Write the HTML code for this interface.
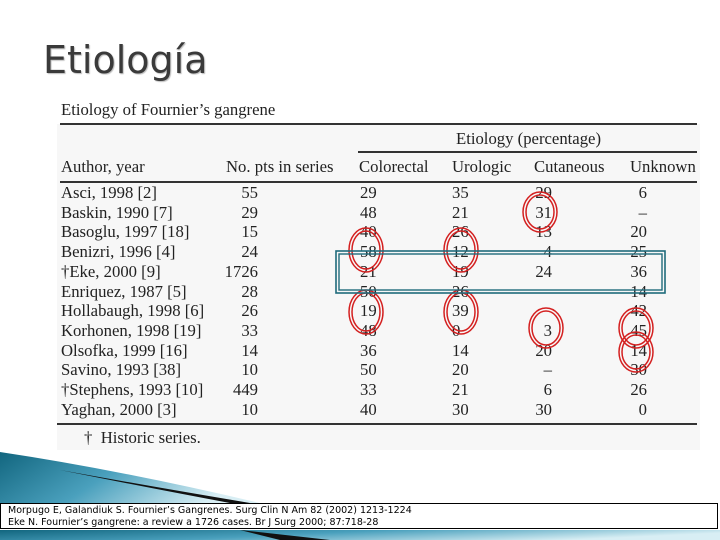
<!DOCTYPE html>
<html><head><meta charset="utf-8"><style>
body{margin:0;width:720px;height:540px;overflow:hidden;background:#fff;position:relative;font-family:"Liberation Serif",serif;}
.t{position:absolute;font-size:16.7px;color:#222;white-space:nowrap;line-height:18px;}
.r{text-align:right;}
.ln{position:absolute;height:1.5px;background:#333;}
</style></head><body>
<div style="position:absolute;left:43px;top:38px;font-family:'DejaVu Sans','Liberation Sans',sans-serif;font-size:38px;color:#3a3a3a;text-shadow:1px 1px 1px #bbb;">Etiología</div>
<div style="position:absolute;left:57px;top:124px;width:643px;height:326px;background:#f7f7f7;"></div>
<div class="t" style="left:61px;top:101px;">Etiology of Fournier’s gangrene</div>
<div class="ln" style="left:60px;top:123px;width:637px;"></div>
<div class="t" style="left:456px;top:130px;">Etiology (percentage)</div>
<div class="ln" style="left:358px;top:151px;width:339px;"></div>
<div class="t" style="left:61px;top:158px;">Author, year</div>
<div class="t" style="left:226px;top:158px;">No. pts in series</div>
<div class="t" style="left:359px;top:158px;">Colorectal</div>
<div class="t" style="left:452px;top:158px;">Urologic</div>
<div class="t" style="left:534px;top:158px;">Cutaneous</div>
<div class="t" style="left:630px;top:158px;">Unknown</div>
<div class="ln" style="left:60px;top:181px;width:637px;"></div>
<div id="rows"></div>
<div class="ln" style="left:57px;top:423px;width:640px;"></div>
<div class="t" style="left:84px;top:429px;">†&nbsp; Historic series.</div>

<svg width="720" height="540" style="position:absolute;left:0;top:0;">
<g fill="none" stroke="#d42020" stroke-width="1.5">
<ellipse cx="540" cy="212" rx="17" ry="20"/><ellipse cx="540" cy="212" rx="14" ry="17"/>
<ellipse cx="366" cy="250" rx="17" ry="22"/><ellipse cx="366" cy="250" rx="14" ry="19"/>
<ellipse cx="461" cy="250" rx="17" ry="22"/><ellipse cx="461" cy="250" rx="14" ry="19"/>
<ellipse cx="366" cy="312" rx="17" ry="22"/><ellipse cx="366" cy="312" rx="14" ry="19"/>
<ellipse cx="461" cy="312" rx="17" ry="22"/><ellipse cx="461" cy="312" rx="14" ry="19"/>
<ellipse cx="546" cy="328" rx="17" ry="20"/><ellipse cx="546" cy="328" rx="14" ry="17"/>
<ellipse cx="636" cy="328" rx="17" ry="20"/><ellipse cx="636" cy="328" rx="14" ry="17"/>
<ellipse cx="636" cy="352" rx="17" ry="20"/><ellipse cx="636" cy="352" rx="14" ry="17"/>
</g>
<rect x="336" y="251" width="329" height="42" fill="none" stroke="#1f6b7c" stroke-width="1.6"/>
<rect x="339" y="254" width="323" height="36" fill="none" stroke="#1f6b7c" stroke-width="1.4"/>
<defs><linearGradient id="g" x1="0" y1="0" x2="1" y2="0.3"><stop offset="0" stop-color="#12667f"/><stop offset="0.5" stop-color="#4aa0bd"/><stop offset="1" stop-color="#d8eef4"/></linearGradient></defs>
<path d="M0,452 Q120,470 260,503 L0,503 Z" fill="url(#g)"/>
<path d="M60,470 Q160,488 250,503 L230,503 Q150,488 60,470 Z" fill="#111"/>
<path d="M0,530 L720,530 L720,540 L0,540 Z" fill="url(#g)"/>
<path d="M240,530 L330,540 L280,540 Z" fill="#111"/>
</svg>
<div style="position:absolute;left:0;top:503px;width:718px;height:26px;border:1px solid #000;background:#fff;font-family:'DejaVu Sans','Liberation Sans',sans-serif;font-size:9.5px;line-height:12px;padding-left:7px;box-sizing:border-box;padding-top:1px;">
<div>Morpugo E, Galandiuk S. Fournier’s Gangrenes. Surg Clin N Am 82 (2002) 1213-1224</div>
<div>Eke N. Fournier’s gangrene: a review a 1726 cases. Br J Surg 2000; 87:718-28</div>
</div>
<script>
const authors=["Asci, 1998 [2]","Baskin, 1990 [7]","Basoglu, 1997 [18]","Benizri, 1996 [4]","†Eke, 2000 [9]","Enriquez, 1987 [5]","Hollabaugh, 1998 [6]","Korhonen, 1998 [19]","Olsofka, 1999 [16]","Savino, 1993 [38]","†Stephens, 1993 [10]","Yaghan, 2000 [3]"];
const pts=["55","29","15","24","1726","28","26","33","14","10","449","10"];
const colorectal=["29","48","40","58","21","50","19","48","36","50","33","40"];
const urologic=["35","21","26","12","19","26","39","0","14","20","21","30"];
const cutaneous=["29","31","13","4","24","–","","3","20","–","6","30"];
const unknown=["6","–","20","25","36","14","42","45","14","30","26","0"];
const host=document.getElementById('rows');
function cell(txt,x,y,right,name){const d=document.createElement('div');d.className='t'+(right?' r':'');


d.textContent=txt;d.style.top=y+'px';if(right){d.style.left=(x-60)+'px';d.style.width='60px';}else d.style.left=x+'px';host.appendChild(d);}
authors.forEach((a,i)=>{const y=184+i*19.7;
cell(a,61,y,false,'author-cell');
cell(pts[i],258,y,true,'pts-cell');
cell(colorectal[i],360,y,false,'colorectal-cell');
cell(urologic[i],452,y,false,'urologic-cell');
cell(cutaneous[i],552,y,true,'cutaneous-cell');
cell(unknown[i],647,y,true,'unknown-cell');});
</script>
</body></html>
